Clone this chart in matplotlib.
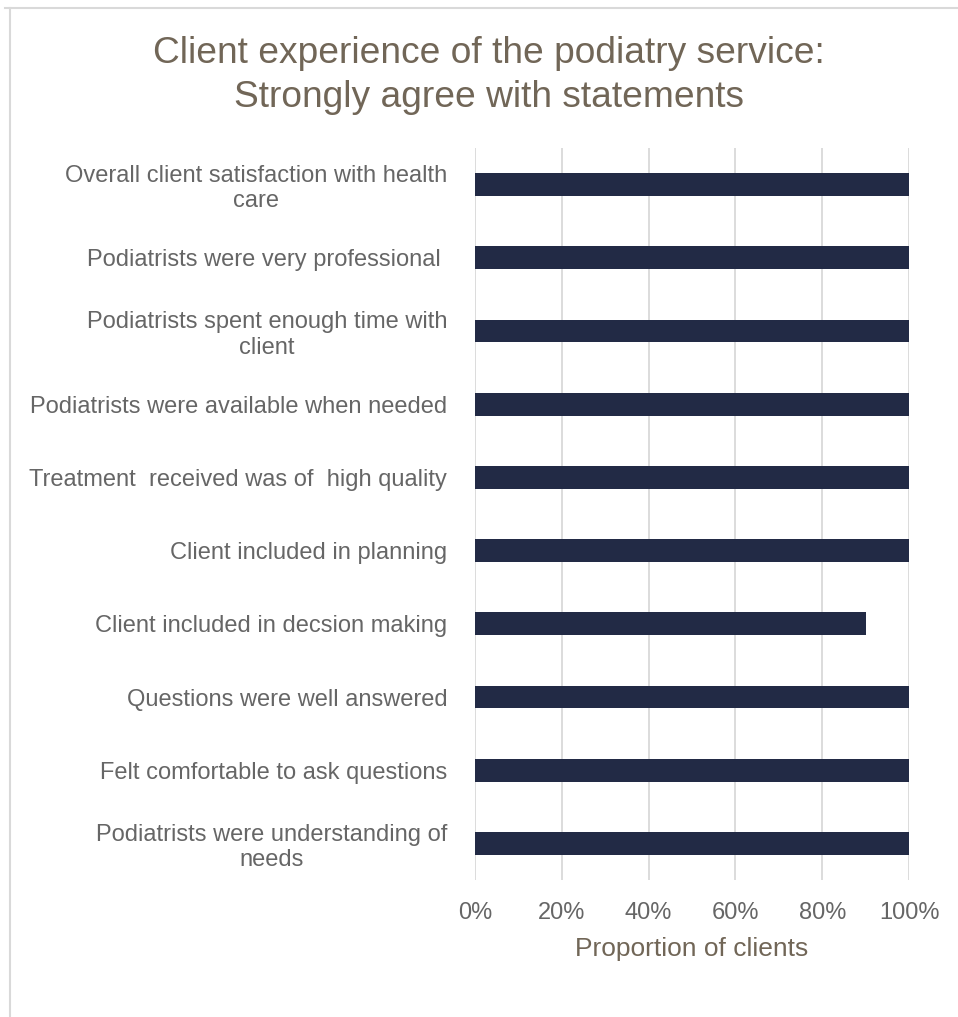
import matplotlib.pyplot as plt
from matplotlib.lines import Line2D
from matplotlib.ticker import FuncFormatter

# survey statements, top to bottom
statements = [
    "Overall client satisfaction with health\ncare",
    "Podiatrists were very professional ",
    "Podiatrists spent enough time with\nclient",
    "Podiatrists were available when needed",
    "Treatment  received was of  high quality",
    "Client included in planning",
    "Client included in decsion making",
    "Questions were well answered",
    "Felt comfortable to ask questions",
    "Podiatrists were understanding of\nneeds",
]
strongly_agree = [1.0, 1.0, 1.0, 1.0, 1.0, 1.0, 0.9, 1.0, 1.0, 1.0]
x_ticks = [0, 0.2, 0.4, 0.6, 0.8, 1.0]

bar_color = "#222a45"
title_color = "#716657"
label_color = "#666666"
grid_color = "#d9d9d9"

plt.rcParams["font.family"] = ["Liberation Sans", "DejaVu Sans"]

fig = plt.figure(figsize=(9.58, 10.17), dpi=100)
ax = fig.add_axes([0.4958, 0.1347, 0.4531, 0.7198])

y = list(range(len(statements)))
ax.barh(y, strongly_agree, height=0.31, color=bar_color, zorder=3)

ax.set_xlim(0, 1.0)
ax.set_ylim(len(statements) - 0.5, -0.5)
ax.set_xticks(x_ticks)
ax.xaxis.set_major_formatter(FuncFormatter(lambda v, p: f"{v * 100:.0f}%"))
ax.set_yticks(y)
ax.set_yticklabels(statements, fontsize=17, color=label_color, ma="center", linespacing=1.2)
ax.tick_params(axis="y", length=0, pad=20)
ax.tick_params(axis="x", length=0, pad=16, labelsize=17, labelcolor=label_color)

ax.grid(axis="x", color=grid_color, linewidth=1.3, zorder=0)
for s in ax.spines.values():
    s.set_visible(False)

ax.set_xlabel("Proportion of clients", fontsize=19, color=title_color, labelpad=9)

fig.text(0.51, 0.926, "Client experience of the podiatry service:\nStrongly agree with statements",
         ha="center", va="center", fontsize=26.7, color=title_color, linespacing=1.35)

# chart frame (top and left edges)
fig.add_artist(Line2D([0.005, 1.0], [0.992, 0.992], color=grid_color, linewidth=1.5))
fig.add_artist(Line2D([0.0105, 0.0105], [0.0, 0.992], color=grid_color, linewidth=1.5))

fig.savefig("out.png", dpi=100, facecolor="white")
